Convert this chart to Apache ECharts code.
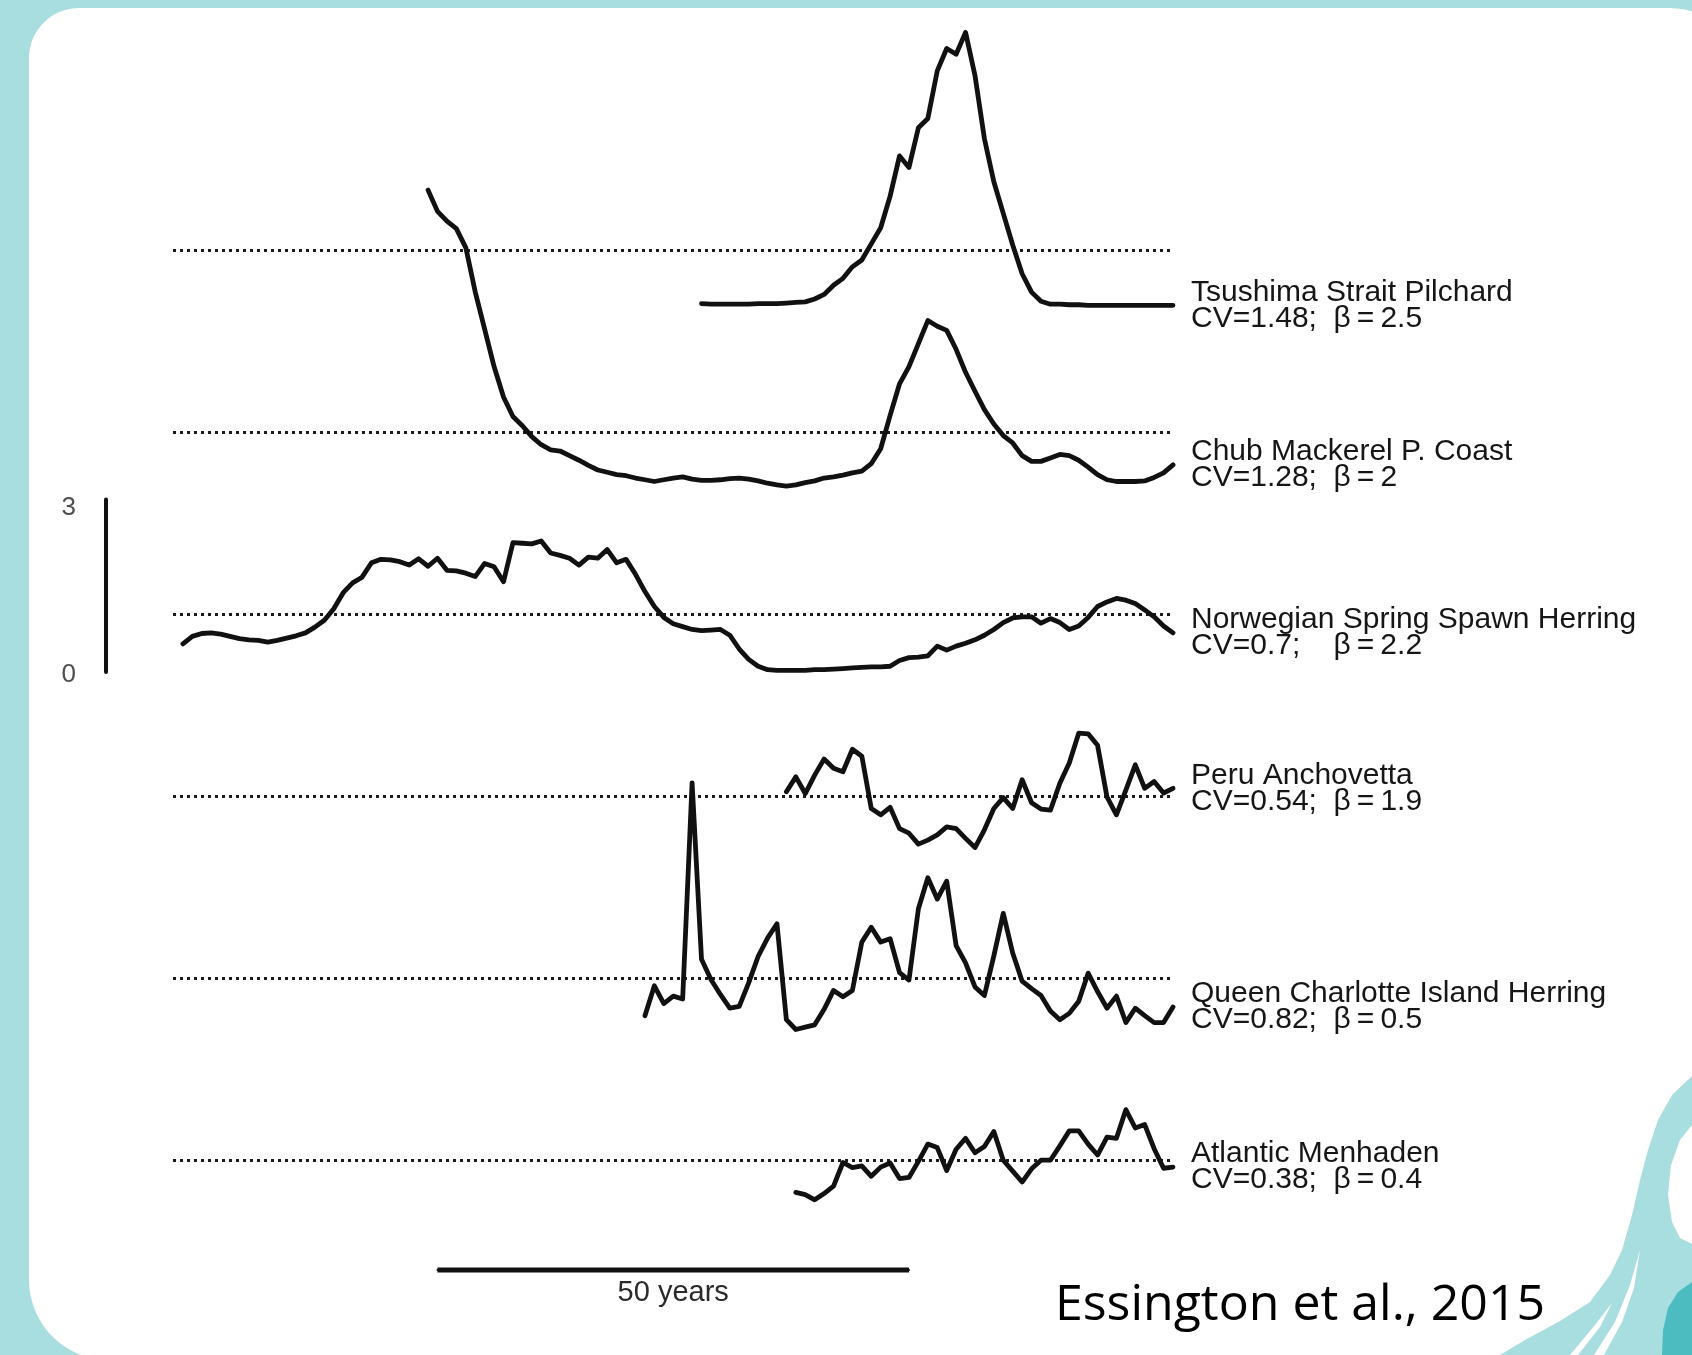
<!DOCTYPE html>
<html>
<head>
<meta charset="utf-8">
<script src="https://cdn.jsdelivr.net/npm/echarts@6/dist/echarts.min.js"></script>
<style>
  html, body { margin: 0; padding: 0; background: #a9dee1; }
  #chart { width: 1692px; height: 1355px; }
</style>
</head>
<body>
<div id="chart"></div>
<script>
// Biomass of six forage-fish stocks, each scaled to its long-run mean
// (dotted reference line = 1), stacked one above the other.
const stockNames = [
  'Tsushima Strait Pilchard',
  'Chub Mackerel P. Coast',
  'Norwegian Spring Spawn Herring',
  'Peru Anchovetta',
  'Queen Charlotte Island Herring',
  'Atlantic Menhaden'
];
const cvValues = ['1.48', '1.28', '0.7', '0.54', '0.82', '0.38'];
const betaValues = ['2.5', '2', '2.2', '1.9', '0.5', '0.4'];
const startYears = [1960, 1931, 1905, 1969, 1954, 1970];

const tsushima = [
  0.08, 0.07, 0.07, 0.07, 0.07, 0.07, 0.08, 0.08, 0.08, 0.09,
  0.10, 0.11, 0.16, 0.24, 0.40, 0.52, 0.72, 0.84, 1.12, 1.40,
  1.95, 2.65, 2.45, 3.14, 3.30, 4.13, 4.52, 4.42, 4.80, 4.05,
  2.95, 2.20, 1.65, 1.10, 0.60, 0.28, 0.12, 0.07, 0.07, 0.06,
  0.06, 0.05, 0.05, 0.05, 0.05, 0.05, 0.05, 0.05, 0.05, 0.05,
  0.05
];
const chubMackerel = [
  5.22, 4.85, 4.68, 4.55, 4.22, 3.45, 2.80, 2.15, 1.62, 1.28,
  1.12, 0.93, 0.79, 0.70, 0.68, 0.60, 0.52, 0.43, 0.35, 0.31,
  0.27, 0.25, 0.21, 0.18, 0.15, 0.18, 0.21, 0.23, 0.19, 0.17,
  0.17, 0.18, 0.20, 0.21, 0.19, 0.16, 0.12, 0.09, 0.07, 0.09,
  0.13, 0.16, 0.21, 0.23, 0.26, 0.30, 0.33, 0.46, 0.72, 1.30,
  1.85, 2.15, 2.55, 2.95, 2.85, 2.78, 2.45, 2.05, 1.72, 1.40,
  1.15, 0.95, 0.82, 0.60, 0.50, 0.50, 0.56, 0.62, 0.60, 0.52,
  0.40, 0.27, 0.18, 0.15, 0.15, 0.15, 0.16, 0.22, 0.30, 0.44
];
const norwegianHerring = [
  0.49, 0.62, 0.67, 0.68, 0.66, 0.62, 0.58, 0.56, 0.55, 0.52,
  0.55, 0.59, 0.63, 0.68, 0.78, 0.90, 1.10, 1.38, 1.55, 1.65,
  1.90, 1.96, 1.95, 1.92, 1.86, 1.97, 1.84, 1.98, 1.77, 1.76,
  1.72, 1.66, 1.89, 1.83, 1.57, 2.25, 2.24, 2.23, 2.28, 2.07,
  2.03, 1.98, 1.86, 2.00, 1.98, 2.13, 1.90, 1.96, 1.70, 1.40,
  1.14, 0.95, 0.84, 0.79, 0.74, 0.72, 0.73, 0.74, 0.64, 0.40,
  0.22, 0.10, 0.04, 0.03, 0.03, 0.03, 0.03, 0.04, 0.04, 0.05,
  0.06, 0.07, 0.08, 0.09, 0.09, 0.10, 0.20, 0.25, 0.26, 0.28,
  0.45, 0.38, 0.45, 0.50, 0.56, 0.64, 0.74, 0.86, 0.94, 0.96,
  0.96, 0.85, 0.93, 0.86, 0.74, 0.80, 0.95, 1.14, 1.22, 1.28,
  1.25, 1.19, 1.08, 0.96, 0.80, 0.68
];
const peruAnchovetta = [
  1.08, 1.34, 1.05, 1.37, 1.65, 1.49, 1.43, 1.82, 1.70, 0.79,
  0.68, 0.81, 0.44, 0.36, 0.17, 0.24, 0.33, 0.47, 0.44, 0.27,
  0.11, 0.42, 0.79, 0.98, 0.79, 1.29, 0.89, 0.78, 0.76, 1.23,
  1.58, 2.10, 2.09, 1.89, 0.99, 0.68, 1.11, 1.55, 1.14, 1.26,
  1.06, 1.14
];
const qciHerring = [
  0.35, 0.87, 0.56, 0.69, 0.64, 4.40, 1.33, 0.98, 0.72, 0.48,
  0.51, 0.92, 1.38, 1.70, 1.95, 0.28, 0.11, 0.15, 0.19, 0.46,
  0.79, 0.68, 0.79, 1.63, 1.89, 1.63, 1.69, 1.10, 0.97, 2.21,
  2.75, 2.38, 2.69, 1.57, 1.27, 0.85, 0.70, 1.39, 2.13, 1.44,
  0.95, 0.82, 0.70, 0.43, 0.28, 0.39, 0.60, 1.09, 0.77, 0.48,
  0.69, 0.23, 0.48, 0.35, 0.23, 0.23, 0.50
];
const menhaden = [
  0.44, 0.40, 0.31, 0.42, 0.55, 0.96, 0.87, 0.90, 0.72, 0.88,
  0.95, 0.68, 0.70, 0.98, 1.28, 1.22, 0.82, 1.19, 1.38, 1.13,
  1.24, 1.50, 1.00, 0.81, 0.62, 0.85, 1.00, 1.00, 1.25, 1.51,
  1.51, 1.28, 1.09, 1.40, 1.38, 1.88, 1.56, 1.62, 1.20, 0.86,
  0.88
];
const seriesValues = [tsushima, chubMackerel, norwegianHerring, peruAnchovetta, qciHerring, menhaden];

// vertical scale bar ticks and the 50-year time bar
const scaleTicks = [0, 3];
const timeBarYears = [1932, 1957, 1982];
const timeBarLabel = '50 years';
const creditText = 'Essington et al., 2015';

// ---- layout ----
const W = 1692, H = 1355;
const zeroPx = 672;          // pixel row of value 0 on the Norwegian panel
const unitPx = 57.47;        // pixels per unit of scaled biomass
const yMax = 11.5, yMin = -11;
const panelGap = 3.165;      // vertical spacing between stacked panels (units)
const xMin = 1903.95, xMax = 2010;
const plotLeft = 173, plotRight = 1173;
const gridTop = zeroPx - yMax * unitPx;
const gridHeight = (yMax - yMin) * unitPx;
const timeBarY = -10.405;

const panelOffsets = [2, 1, 0, -1, -2, -3].map(k => k * panelGap);

function statLine(i) {
  const cv = 'CV=' + cvValues[i] + ';';
  const pad = ' '.repeat(2 + 2 * Math.max(0, 4 - cvValues[i].length));
  return cv + pad + 'β\u2009=\u2009' + betaValues[i];
}

const labelFont = '"Liberation Sans", Arial, Helvetica, sans-serif';
const ink = '#111';

const series = seriesValues.map((vals, i) => ({
  type: 'line',
  name: stockNames[i],
  data: vals.map((v, k) => [startYears[i] + k, v + panelOffsets[i]]),
  showSymbol: false,
  symbol: 'none',
  clip: false,
  lineStyle: { color: ink, width: 4.8, join: 'round', cap: 'round' },
  z: 5,
  endLabel: {
    show: true,
    position: 'right',
    distance: 18,
    formatter: () => stockNames[i] + '\n' + statLine(i),
    fontFamily: labelFont,
    fontSize: 30,
    lineHeight: 26,
    color: '#161616',
    align: 'left',
    verticalAlign: 'middle'
  },
  markLine: {
    silent: true,
    symbol: 'none',
    label: { show: false },
    lineStyle: { color: '#1a1a1a', width: 3, type: [3, 4] },
    data: [{ yAxis: panelOffsets[i] + 1 }],
    z: 3
  }
}));

// 50-year time bar
series.push({
  type: 'line',
  data: timeBarYears.map((yr, k) => ({
    value: [yr, timeBarY],
    label: k === 1 ? {
      show: true, position: 'bottom', distance: 8,
      formatter: timeBarLabel, fontFamily: labelFont, fontSize: 29, color: '#2a2a2a'
    } : { show: false }
  })),
  showSymbol: true,
  symbol: 'circle',
  symbolSize: 2,
  itemStyle: { color: ink },
  clip: false,
  lineStyle: { color: ink, width: 5 },
  z: 5
});

function poly(points, fill) {
  return { type: 'polygon', z: 1, silent: true, shape: { points: points }, style: { fill: fill } };
}

const chart = echarts.init(document.getElementById('chart'), null, { renderer: 'canvas' });

chart.setOption({
  animation: false,
  backgroundColor: '#a9dee1',
  grid: [
    { left: plotLeft, right: W - plotRight, top: gridTop, height: gridHeight },
    { left: 106, width: 4, top: zeroPx - 3 * unitPx, height: 3 * unitPx }
  ],
  xAxis: [
    { type: 'value', min: xMin, max: xMax, show: false, gridIndex: 0 },
    { type: 'value', min: 0, max: 1, show: false, gridIndex: 1 }
  ],
  yAxis: [
    { type: 'value', min: yMin, max: yMax, show: false, gridIndex: 0 },
    {
      type: 'value', gridIndex: 1, min: scaleTicks[0], max: scaleTicks[1], interval: 3,
      position: 'left',
      axisLine: { show: true, lineStyle: { color: ink, width: 4 } },
      axisTick: { show: false },
      splitLine: { show: false },
      axisLabel: {
        show: true, margin: 30,
        formatter: v => (v === scaleTicks[1] ? '{top|' + v + '}' : '{bot|' + v + '}'),
        rich: {
          top: { fontFamily: labelFont, fontSize: 26, color: '#4f4f4f', padding: [16, 0, 0, 0] },
          bot: { fontFamily: labelFont, fontSize: 26, color: '#4f4f4f', padding: [5, 0, 0, 0] }
        }
      }
    }
  ],
  graphic: [
    {
      type: 'rect', z: -10, silent: true,
      shape: { x: 29, y: 8, width: 1720, height: 1352, r: [50, 80, 80, 80] },
      style: { fill: '#ffffff' }
    },
    poly([[1500,1355],[1525,1340],[1560,1321],[1590,1302],[1610,1275],[1622,1250],[1632,1215],
          [1640,1180],[1648,1150],[1658,1120],[1672,1095],[1692,1076],[1692,1355]], '#a9dee1'),
    poly([[1692,1125],[1680,1140],[1671,1165],[1668,1195],[1672,1222],[1680,1238],[1692,1244]], '#ffffff'),
    poly([[1640,1250],[1630,1285],[1615,1322],[1594,1355],[1604,1355],[1622,1322],[1634,1288]], '#ffffff'),
    poly([[1612,1303],[1595,1325],[1570,1355],[1578,1355],[1600,1327]], '#ffffff'),
    poly([[1662,1355],[1663,1330],[1668,1308],[1678,1292],[1692,1282],[1692,1355]], '#4dbcc0'),
    {
      type: 'text', z: 2, silent: true,
      style: {
        x: 1055, y: 1306, text: creditText,
        font: '50px "Open Sans", sans-serif',
        fill: '#000', textAlign: 'left', textVerticalAlign: 'middle'
      }
    }
  ],
  series: series
});
</script>
</body>
</html>
